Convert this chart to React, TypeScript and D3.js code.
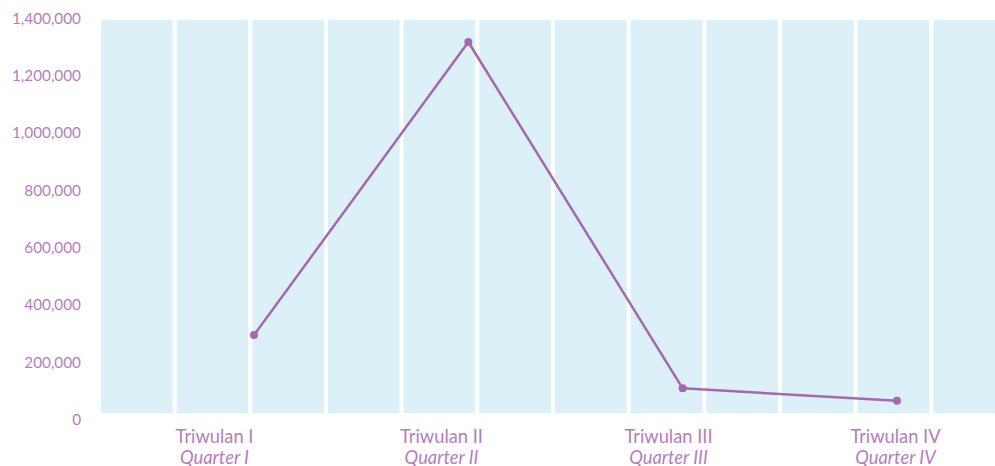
import React from "react";
import * as d3 from "d3";

// Quarterly values
const quarterIds = ["Q1", "Q2", "Q3", "Q4"];
const quarterLabelsId = ["Triwulan I", "Triwulan II", "Triwulan III", "Triwulan IV"];
const quarterLabelsEn = ["Quarter I", "Quarter II", "Quarter III", "Quarter IV"];
const values = [294000, 1317000, 108000, 65000];

// Month columns drawn in the background
const months = ["Jan", "Feb", "Mar", "Apr", "May", "Jun", "Jul", "Aug", "Sep", "Oct", "Nov", "Dec"];

// Y-axis ticks
const yTicks = [0, 200000, 400000, 600000, 800000, 1000000, 1200000, 1400000];

const W = 995;
const H = 466;
const TEXT = "#b57dc0";
const LINE = "#a866b0";
const BG = "#dcf0f8";
const FONT = "Lato, 'Open Sans', sans-serif";

export default function App() {
  const plotLeft = 101;
  const plotRight = 1009;
  const bgTop = 20;
  const bgBottom = 413;

  const y = d3.scaleLinear().domain([0, 1400000]).range([419.3, 18.2]);
  const monthX = d3.scaleBand<string>().domain(months).range([plotLeft, plotRight]);
  const quarterX = d3.scaleBand<string>().domain(quarterIds).range([plotLeft, plotRight]);
  const pointX = d3.scalePoint<string>().domain(quarterIds).range([254, 897]);

  const fmt = d3.format(",");
  const gap = 4;

  const line = d3
    .line<number>()
    .x((_, i) => pointX(quarterIds[i]) as number)
    .y((d) => y(d));

  return (
    <svg
      width={W}
      height={H}
      style={{ position: "absolute", left: 0, top: 0, background: "#fff" }}
      fontFamily={FONT}
    >
      <defs>
        <clipPath id="view">
          <rect x={0} y={0} width={W} height={H} />
        </clipPath>
      </defs>
      <g clipPath="url(#view)">
        {months.map((m) => (
          <rect
            key={m}
            x={monthX(m) as number}
            y={bgTop}
            width={monthX.bandwidth() - gap}
            height={bgBottom - bgTop}
            fill={BG}
          />
        ))}
      </g>

      {yTicks.map((t) => (
        <text
          key={t}
          x={81}
          y={y(t)}
          dy="0.36em"
          textAnchor="end"
          fontSize={15.3}
          fill={TEXT}
        >
          {fmt(t)}
        </text>
      ))}

      {quarterIds.map((q, i) => {
        const cx = (quarterX(q) as number) + quarterX.bandwidth() / 2;
        return (
          <g key={q}>
            <text x={cx} y={442.5} textAnchor="middle" fontSize={18.3} fill={TEXT}>
              {quarterLabelsId[i]}
            </text>
            <text x={cx} y={463.5} textAnchor="middle" fontSize={18.3} fontStyle="italic" fill={TEXT}>
              {quarterLabelsEn[i]}
            </text>
          </g>
        );
      })}

      <path d={line(values) ?? ""} fill="none" stroke={LINE} strokeWidth={2.5} strokeLinejoin="round" />
      {values.map((v, i) => (
        <circle key={quarterIds[i]} cx={pointX(quarterIds[i]) as number} cy={y(v)} r={4} fill={LINE} />
      ))}
    </svg>
  );
}
